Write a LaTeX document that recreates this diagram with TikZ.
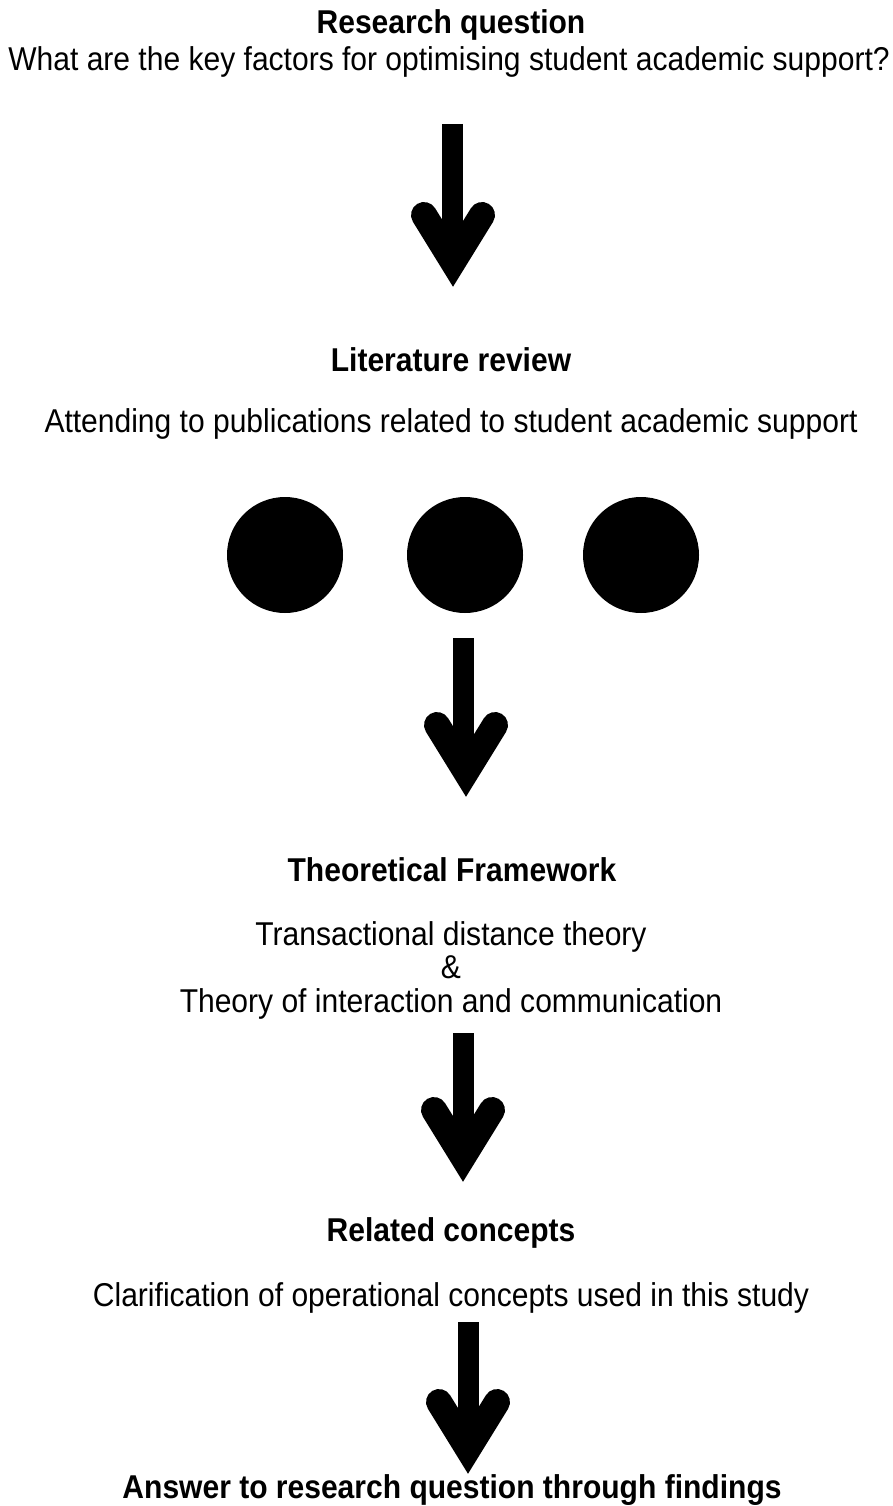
\documentclass[tikz,border=0pt]{standalone}
\usepackage{fontspec}
\setmainfont{Liberation Sans}[FakeStretch=0.91]
\usepackage{tikz}
\usetikzlibrary{
	calc,
	positioning
}

% thick hand-drawn style arrow: shaft plus chevron head
\newcommand{\fatarrow}[2]{%
	\draw[line width=21pt] (#1) -- ($(#1 |- #2)+(0,-40)$);
	\draw[line width=26pt, line cap=round, line join=miter] ($(#2)+(-29,-70)$) -- ($(#2)+(0,-23)$) -- ($(#2)+(29,-70)$);
}

\begin{document}
\begin{tikzpicture}[x=1pt, y=-1pt,
		heading/.style={font=\fontsize{33}{36}\selectfont\bfseries, inner sep=0pt},
		body/.style={font=\fontsize{33}{33.5}\selectfont, inner sep=0pt, align=center},
		dot/.style={circle, fill=black, minimum size=116pt, inner sep=0pt}]
		\useasboundingbox (0,0) rectangle (893,1506);
		% research question
		\node[heading] (rq) at (451,25) {Research question};
		\node[body] (rqtext) at (449,62) {What are the key factors for optimising student academic support?};
		\coordinate (a1top) at (452,124);
		\coordinate (a1tip) at (453,285);
		\fatarrow{a1top}{a1tip}
		% literature review
		\node[heading] (lit) at (451,360) {Literature review};
		\node[body] (littext) at (451,424) {Attending to publications related to student academic support};
		\node[dot] (dotA) at (285,555) {};
		\node[dot] (dotB) at (465,555) {};
		\node[dot] (dotC) at (641,555) {};
		\coordinate (a2top) at (463,638);
		\coordinate (a2tip) at (466,795);
		\fatarrow{a2top}{a2tip}
		% theoretical framework
		\node[heading] (tf) at (452,870) {Theoretical Framework};
		\node[body] (tftext) at (451,970) {Transactional distance theory\\\&\\Theory of interaction and communication};
		\coordinate (a3top) at (463,1033);
		\coordinate (a3tip) at (463,1180);
		\fatarrow{a3top}{a3tip}
		% related concepts
		\node[heading] (rc) at (451,1233) {Related concepts};
		\node[body] (rctext) at (451,1298) {Clarification of operational concepts used in this study};
		\coordinate (a4top) at (468,1322);
		\coordinate (a4tip) at (468,1472);
		\fatarrow{a4top}{a4tip}
		% outcome
		\node[heading] (ans) at (452,1490) {Answer to research question through findings};
	\end{tikzpicture}
\end{document}
